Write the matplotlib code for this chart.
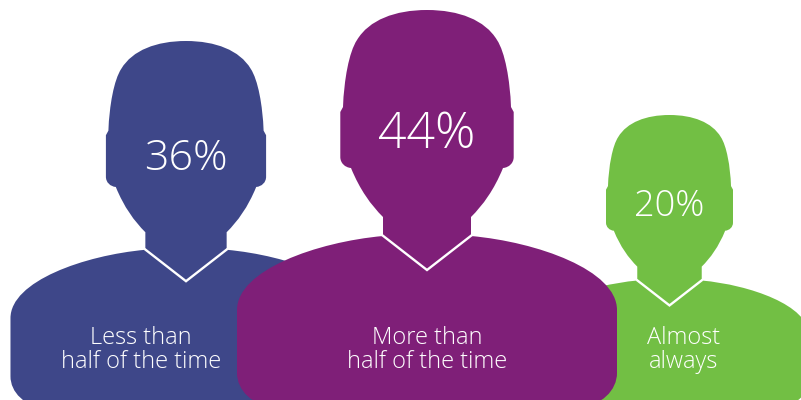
import matplotlib
matplotlib.use("Agg")
import matplotlib.pyplot as plt
from matplotlib.patches import PathPatch
from matplotlib.path import Path

# Survey shares, one silhouette per answer
answers = [["Less than", "half of the time"], ["More than", "half of the time"], ["Almost", "always"]]
shares = [36, 44, 20]
colors = ["#3E4789", "#7F1F78", "#72BF44"]

# Layout in pixels
center_x = [186, 427, 669.5]
head_top = [41, 10, 115]
value_baseline = [170, 148, 215.5]
value_size = [31, 36, 26]
label_x = [141, 427, 684]
label_baselines = [344.5, 367.5]
draw_order = [0, 2, 1]

SIZE_EXPONENT = 0.395
REFERENCE_SHARE = max(shares)

plt.rcParams["font.family"] = ["Open Sans", "DejaVu Sans"]

# Left half of the silhouette: x offset from the centre line, y below the crown
HALF_OUTLINE = [
    (Path.MOVETO, (0, 0)),
    (Path.CURVE4, (-32, 0)), (Path.CURVE4, (-58, 10)), (Path.CURVE4, (-70, 30)),
    (Path.CURVE4, (-78, 42)), (Path.CURVE4, (-83, 70)), (Path.CURVE4, (-84, 97)),
    (Path.LINETO, (-86.7, 102)),
    (Path.LINETO, (-86.7, 147)),
    (Path.CURVE4, (-86.7, 153)), (Path.CURVE4, (-82, 157.5)), (Path.CURVE4, (-76, 158)),
    (Path.CURVE4, (-67, 180)), (Path.CURVE4, (-56, 195)), (Path.CURVE4, (-44, 207)),
    (Path.LINETO, (-44, 226)),
    (Path.CURVE4, (-110, 232)), (Path.CURVE4, (-190, 260)), (Path.CURVE4, (-190, 300)),
    (Path.LINETO, (-190, 363)),
    (Path.CURVE4, (-190, 380)), (Path.CURVE4, (-175, 396)), (Path.CURVE4, (-150, 398)),
    (Path.LINETO, (0, 398)),
]


def silhouette(cx, top, scale):
    """Closed person outline, mirrored about the centre line."""
    codes = [c for c, _ in HALF_OUTLINE]
    pts = [p for _, p in HALF_OUTLINE]
    # Walk back up the right side, reusing the left side's segments in reverse
    rev_pts = [(-x, y) for x, y in reversed(pts)][1:]
    rev_codes = list(reversed(codes[1:]))
    all_pts = pts + rev_pts
    all_codes = codes + rev_codes
    verts = [(cx + x * scale, top + y * scale) for x, y in all_pts]
    return Path(verts + [verts[0]], all_codes + [Path.CLOSEPOLY])


fig = plt.figure(figsize=(8.01, 4.0), dpi=100)
ax = fig.add_axes([0, 0, 1, 1])
ax.set_xlim(0, 801)
ax.set_ylim(400, 0)
ax.axis("off")

for z, i in enumerate(draw_order):
    scale = (shares[i] / REFERENCE_SHARE) ** SIZE_EXPONENT
    cx, top = center_x[i], head_top[i]
    ax.add_patch(PathPatch(silhouette(cx, top, scale), facecolor=colors[i],
                           edgecolor="none", zorder=z * 3 + 1))
    # White collar line where the neck meets the shoulders
    ax.plot([cx - 45 * scale, cx, cx + 45 * scale],
            [top + 225 * scale, top + 260 * scale, top + 225 * scale],
            color="white", lw=1.7, solid_joinstyle="miter", solid_capstyle="butt",
            zorder=z * 3 + 2)
    ax.text(cx, value_baseline[i], f"{shares[i]}%", color="white", fontsize=value_size[i],
            fontweight="light", ha="center", va="baseline", zorder=z * 3 + 3)
    for line, base in zip(answers[i], label_baselines):
        ax.text(label_x[i], base, line, color="white", fontsize=17, fontweight="light",
                ha="center", va="baseline", zorder=z * 3 + 3)

fig.savefig("out.png", dpi=100, facecolor="white")
